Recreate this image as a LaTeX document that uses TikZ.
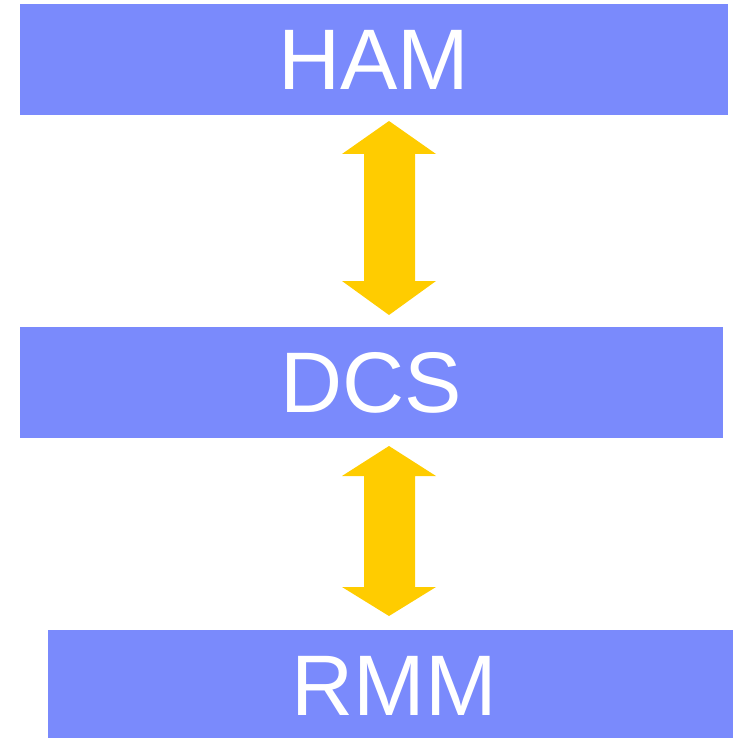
\documentclass[tikz,border=0pt]{standalone}
\usepackage{fontspec}
\setmainfont{Liberation Sans}
\definecolor{boxblue}{HTML}{7A8AFC}
\definecolor{arrowyellow}{HTML}{FFCC00}
\begin{document}
\begin{tikzpicture}[x=1pt,y=-1pt,
  layer/.style={fill=boxblue,draw=none,inner sep=0pt,text=white,font=\fontsize{86}{90}\selectfont},
  dblarrow/.style={fill=arrowyellow,draw=none}]
\useasboundingbox (0,0) rectangle (733,738);
\node[layer,minimum width=708pt,minimum height=111pt] (ham) at (374,59.5) {HAM};
\node[layer,minimum width=703pt,minimum height=111pt] (dcs) at (371.5,382.5) {DCS};
\node[layer,minimum width=685pt,minimum height=108pt,text depth=0pt] (rmm) at (390.5,684) {};
\node[text=white,inner sep=0pt,font=\fontsize{86}{90}\selectfont] (rmmtext) at ([shift={(3.5,1.5)}]rmm.center) {RMM};
% arrow HAM <-> DCS
\coordinate (a1) at (389,121);
\fill[dblarrow] (a1) -- ++(47,33) -- ++(-21,0) -- ++(0,127) -- ++(21,0) -- (389,315) -- ++(-47,-34) -- ++(22,0) -- ++(0,-127) -- ++(-22,0) -- cycle;
% arrow DCS <-> RMM
\coordinate (a2) at (389,446);
\fill[dblarrow] (a2) -- ++(47,30) -- ++(-21,0) -- ++(0,111) -- ++(21,0) -- (389,616) -- ++(-47,-29) -- ++(22,0) -- ++(0,-111) -- ++(-22,0) -- cycle;
\end{tikzpicture}
\end{document}
